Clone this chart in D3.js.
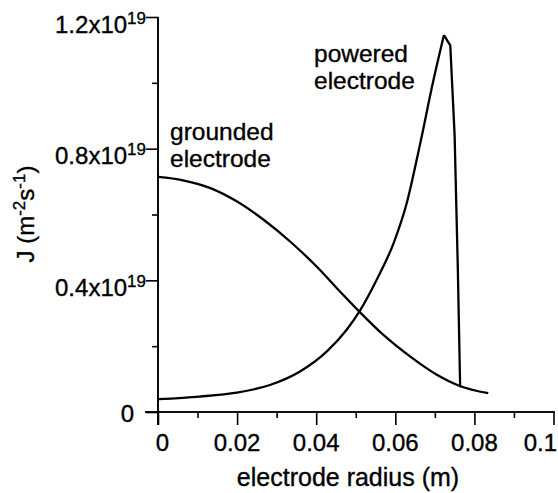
<!DOCTYPE html>
<html>
<head>
<meta charset="utf-8">
<script src="https://cdn.jsdelivr.net/npm/d3@7"></script>
<style>
  body { margin: 0; background: #fff; }
  svg { display: block; font-family: "Liberation Sans", Arial, sans-serif; }
  svg text { fill: #000; stroke: #000; stroke-width: 0.35; }
</style>
</head>
<body>
<svg id="chart" width="558" height="493"></svg>
<script>
// values, J in units of 1e19 m^-2 s^-1, radius in m
var groundedR = [0, 0.0063, 0.0131, 0.0199, 0.0267, 0.0334, 0.0401, 0.0468, 0.0509, 0.0570, 0.0638, 0.0705, 0.0763, 0.0835];
var groundedJ = [0.714, 0.704, 0.681, 0.640, 0.584, 0.518, 0.442, 0.356, 0.305, 0.234, 0.168, 0.113, 0.079, 0.057];

var poweredR = [0, 0.0106, 0.0199, 0.0283, 0.0359, 0.0427, 0.0477, 0.0509, 0.0553, 0.0596, 0.0629, 0.0662, 0.0695, 0.0723, 0.0739, 0.0750, 0.0758, 0.0764];
var poweredJ = [0.039, 0.047, 0.059, 0.082, 0.123, 0.184, 0.250, 0.305, 0.402, 0.514, 0.635, 0.81, 1.0, 1.145, 1.114, 0.84, 0.44, 0.075];

var xMajor = [0, 0.02, 0.04, 0.06, 0.08, 0.1];
var xMinor = [0.01, 0.03, 0.05, 0.07, 0.09];
var xLabels = ['0', '0.02', '0.04', '0.06', '0.08', '0.1'];
var yMajor = [0, 0.4, 0.8, 1.2];
var yMinor = [0.2, 0.6, 1.0];
var yMantissa = ['0', '0.4', '0.8', '1.2'];

var svg = d3.select('#chart');

var x = d3.scaleLinear().domain([0, 0.1]).range([158, 553.5]);
var y = d3.scaleLinear().domain([0, 1.2]).range([412, 17]);

//axes ------------------------------------------------------------
var xAxis = svg.append('g').attr('transform', 'translate(0,' + y(0) + ')');
xAxis.call(d3.axisBottom(x).tickValues(xMajor).tickSize(13).tickSizeOuter(0).tickFormat(''));
xAxis.append('g').call(d3.axisBottom(x).tickValues(xMinor).tickSize(6).tickSizeOuter(0).tickFormat(''));
xAxis.selectAll('path.domain').attr('d', 'M' + (x(0) - 13) + ',0H' + (x(0.1) + 1.5));

var yAxis = svg.append('g').attr('transform', 'translate(' + x(0) + ',0)');
yAxis.call(d3.axisLeft(y).tickValues(yMajor).tickSize(12).tickSizeOuter(0).tickFormat(''));
yAxis.append('g').call(d3.axisLeft(y).tickValues(yMinor).tickSize(6).tickSizeOuter(0).tickFormat(''));
yAxis.selectAll('path.domain').attr('d', 'M0,' + y(1.2) + 'V' + (y(0) + 13));

svg.selectAll('.domain, .tick line').attr('stroke', '#000').attr('stroke-width', 1.6);

//tick labels (first one sits a little right of its tick, last one is pulled in from the edge)
svg.append('g').selectAll('text').data(xMajor).enter().append('text')
  .attr('x', function(d, i) { return i === 0 ? x(d) + 4.5 : x(d); })
  .attr('y', 451)
  .attr('text-anchor', function(d, i) { return i === xMajor.length - 1 ? 'end' : 'middle'; })
  .attr('dx', function(d, i) { return i === xMajor.length - 1 ? 3.5 : 0; })
  .attr('font-size', 24)
  .text(function(d, i) { return xLabels[i]; });

var yt = svg.append('g').selectAll('text').data(yMajor).enter().append('text')
  .attr('x', function(d) { return d === 0 ? 134 : 146; })
  .attr('y', function(d) { return y(d) + (d === 0 ? 10 : 15.5); })
  .attr('text-anchor', 'end')
  .attr('font-size', 24);
yt.append('tspan').text(function(d, i) { return d === 0 ? yMantissa[i] : yMantissa[i] + 'x10'; });
yt.filter(function(d) { return d !== 0; }).append('tspan')
  .attr('font-size', 17).attr('dy', -9).text('19');

//axis titles
svg.append('text')
  .attr('x', 348).attr('y', 486)
  .attr('text-anchor', 'middle')
  .attr('font-size', 25)
  .text('electrode radius (m)');

var yTitle = svg.append('text')
  .attr('transform', 'translate(34,214) rotate(-90)')
  .attr('text-anchor', 'middle')
  .attr('font-size', 24);
yTitle.append('tspan').text('J (m');
yTitle.append('tspan').attr('font-size', 17).attr('dy', -9).text('-2');
yTitle.append('tspan').attr('dy', 9).text('s');
yTitle.append('tspan').attr('font-size', 17).attr('dy', -9).text('-1');
yTitle.append('tspan').attr('dy', 9).text(')');

//curves ------------------------------------------------------------
var grounded = groundedR.map(function(r, i) { return [r, groundedJ[i]]; });
var powered = poweredR.map(function(r, i) { return [r, poweredJ[i]]; });
var peak = d3.maxIndex(poweredJ);

var smooth = d3.line().x(function(d) { return x(d[0]); }).y(function(d) { return y(d[1]); }).curve(d3.curveMonotoneX);
var straight = d3.line().x(function(d) { return x(d[0]); }).y(function(d) { return y(d[1]); });

var curveStyle = function(p) {
  p.attr('fill', 'none').attr('stroke', '#000').attr('stroke-width', 2.3).attr('stroke-linejoin', 'round');
};

svg.append('path').attr('d', smooth(grounded)).call(curveStyle);
svg.append('path').attr('d', smooth(powered.slice(0, peak + 1))).call(curveStyle);
svg.append('path').attr('d', straight(powered.slice(peak))).call(curveStyle);

//labels
var note = function(tx, ty, lines) {
  var t = svg.append('text').attr('font-size', 24.5);
  lines.forEach(function(s, i) {
    t.append('tspan').attr('x', tx).attr('y', ty + i * 27).text(s);
  });
};
note(170, 140, ['grounded', 'electrode']);
note(314, 62, ['powered', 'electrode']);
</script>
</body>
</html>
